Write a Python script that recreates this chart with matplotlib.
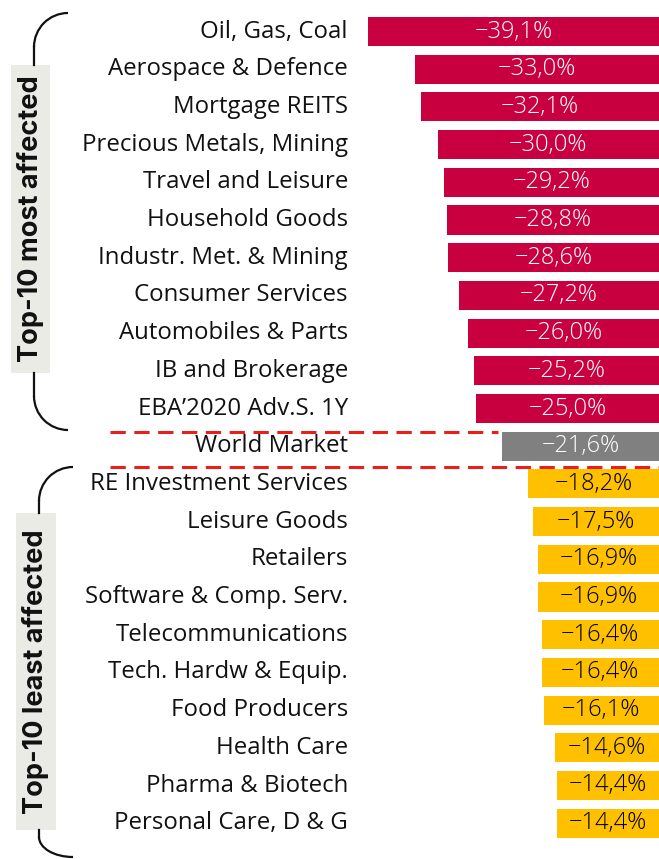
import matplotlib
matplotlib.use("Agg")
import matplotlib.pyplot as plt
import matplotlib.transforms as mtransforms
from matplotlib.patches import Arc, Rectangle
import numpy as np

categories = ["Oil, Gas, Coal", "Aerospace & Defence", "Mortgage REITS",
              "Precious Metals, Mining", "Travel and Leisure", "Household Goods",
              "Industr. Met. & Mining", "Consumer Services", "Automobiles & Parts",
              "IB and Brokerage", "EBA\u20192020 Adv.S. 1Y", "World Market",
              "RE Investment Services", "Leisure Goods", "Retailers",
              "Software & Comp. Serv.", "Telecommunications", "Tech. Hardw & Equip.",
              "Food Producers", "Health Care", "Pharma & Biotech", "Personal Care, D & G"]
values = [-39.1, -33.0, -32.1, -30.0, -29.2, -28.8, -28.6, -27.2, -26.0, -25.2, -25.0,
          -21.6,
          -18.2, -17.5, -16.9, -16.9, -16.4, -16.4, -16.1, -14.6, -14.4, -14.4]
groups = ["most"] * 11 + ["world"] + ["least"] * 10
group_titles = ["Top-10 most affected", "Top-10 least affected"]

RED = "#C8003F"
GRAY = "#808080"
YELLOW = "#FFC000"
colors = {"most": RED, "world": GRAY, "least": YELLOW}
txtcol = {"most": "white", "world": "white", "least": "black"}

W, H = 659, 859
fig = plt.figure(figsize=(W / 100, H / 100), dpi=100)
ax = fig.add_axes([0, 0, 1, 1])
ax.axis("off")

# pixel mapping: zero at x=667px, 7.65 px per %, rows 37.7px apart starting at 31px
x0, sx = 667.0, 7.65
y0, sy = 31.5, 37.7
ax.set_xlim((0 - x0) / sx, (W - x0) / sx)
ax.set_ylim((H - y0) / sy, (0 - y0) / sy)
xmax = ax.get_xlim()[1]

pix = mtransforms.Affine2D().scale(1 / W, -1 / H).translate(0, 1) + fig.transFigure

font = "Open Sans"
n = len(categories)
ypos = np.arange(n)
ax.barh(ypos, values, height=0.77, color=[colors[g] for g in groups], zorder=3)

label_x = (348 - x0) / sx
for i, (c, v, g) in enumerate(zip(categories, values, groups)):
    ax.text(label_x, i, c, ha="right", va="center", fontsize=17.3,
            family=font, color="#111111")
    ax.text((v + xmax) / 2, i, f"{v:.1f}%".replace(".", ",").replace("-", "\u2212"),
            ha="center", va="center", fontsize=17, family=font, fontweight="light",
            color=txtcol[g], zorder=4)

# dashed separators
wi = groups.index("world")
for yy, xend in [(wi - 0.5 + 0.13, values[wi] - 0.5), (wi + 0.5 + 0.05, xmax)]:
    ax.plot([(110 - x0) / sx, xend], [yy, yy], color="#E8201A", lw=2.2,
            ls=(0, (5, 2.8)), zorder=2)

# group title boxes and brackets (decorations in pixel coords)
def bracket(xv, top_end_y, top_box, bot_box, bot_end_y, xr, r_top, r_bot):
    lw = 1.6
    k = dict(transform=pix, color="#111111", lw=lw)
    fig.add_artist(Arc((xr, top_end_y + r_top), 2 * (xr - xv), 2 * r_top,
                       theta1=180, theta2=270, **k))
    fig.add_artist(plt.Line2D([xv, xv], [top_end_y + r_top, top_box], **k))
    fig.add_artist(plt.Line2D([xv, xv], [bot_box, bot_end_y - r_bot], **k))
    fig.add_artist(Arc((xr, bot_end_y - r_bot), 2 * (xr - xv), 2 * r_bot,
                       theta1=90, theta2=180, **k))

bracket(34, 13, 65, 373, 430, 68, 34, 34)
bracket(39, 467, 513, 830, 857, 73, 34, 20)

for title, (bx0, bx1, by0, by1) in zip(group_titles, [(11, 50, 65, 373), (16, 56, 513, 830)]):
    fig.add_artist(Rectangle((bx0, by0), bx1 - bx0, by1 - by0, transform=pix,
                             facecolor="#EBEBE6", edgecolor="none"))
    fig.text(((bx0 + bx1) / 2) / W, 1 - ((by0 + by1) / 2) / H, title, rotation=90,
             ha="center", va="center", fontsize=19.5, fontweight="bold", family="Inter",
             color="#111111")

fig.savefig("out.png", dpi=100)
